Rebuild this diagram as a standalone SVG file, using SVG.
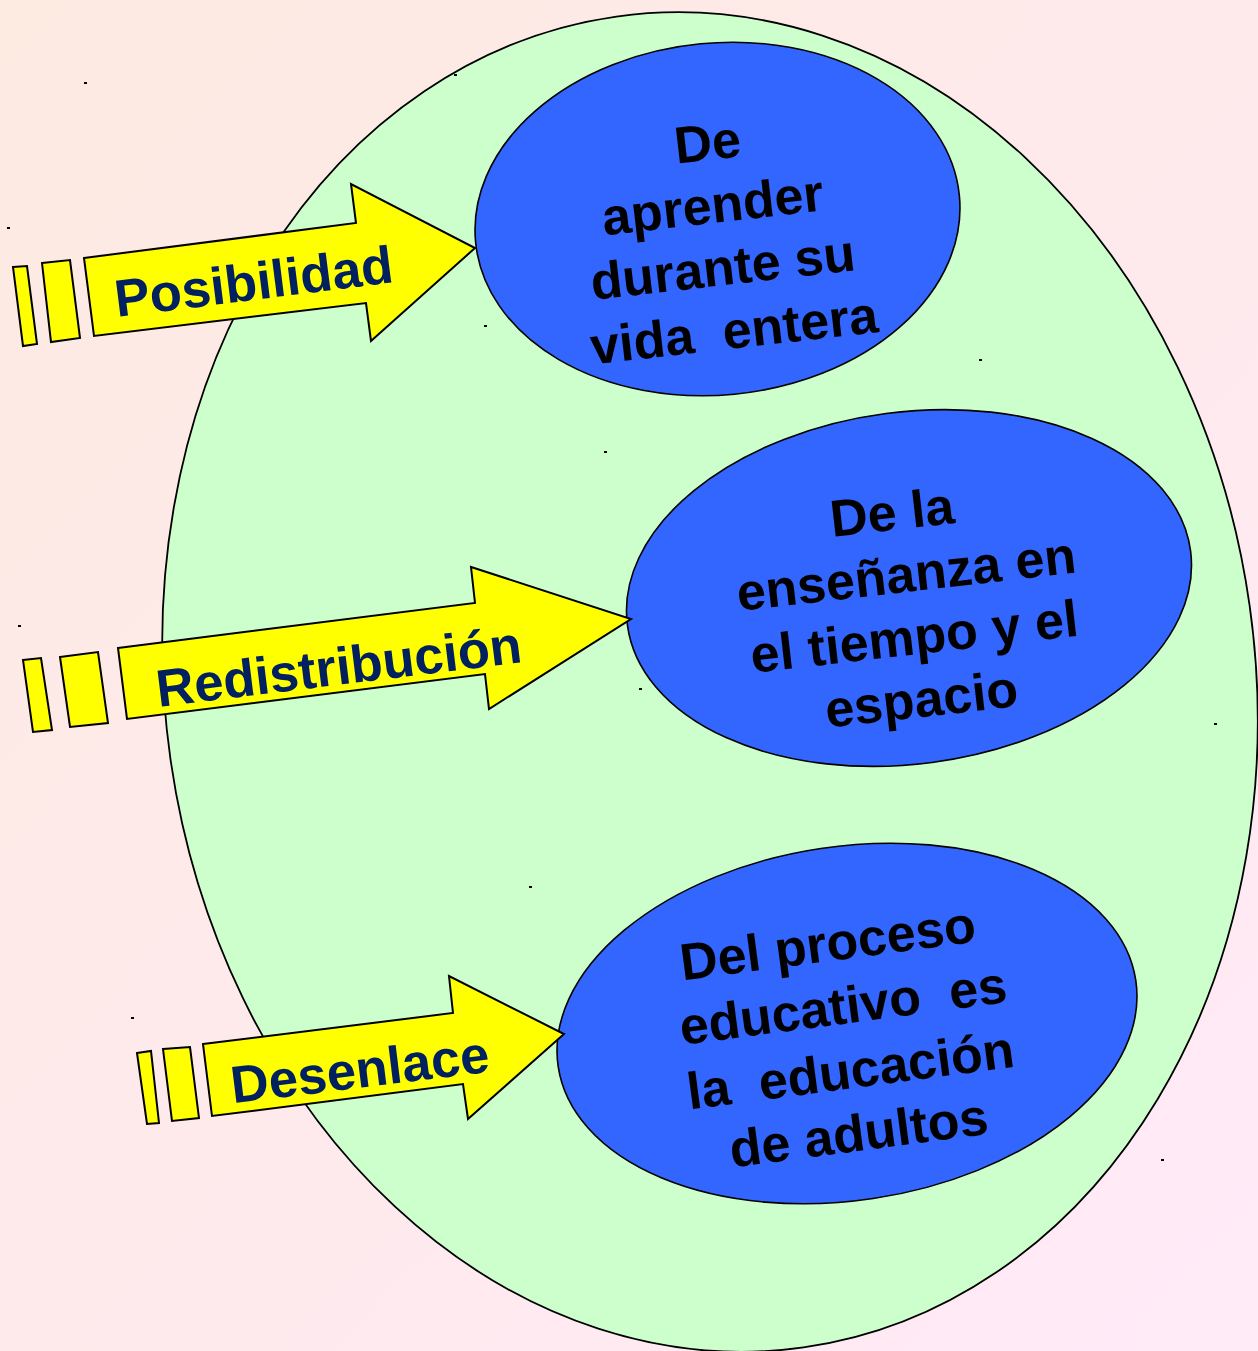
<svg xmlns="http://www.w3.org/2000/svg" width="1258" height="1351" viewBox="0 0 1258 1351">
<defs>
<linearGradient id="bg" x1="0" y1="0" x2="1" y2="1">
<stop offset="0" stop-color="#FDEAE1"/>
<stop offset="0.5" stop-color="#FEEAEB"/>
<stop offset="1" stop-color="#FFEAF8"/>
</linearGradient>
<style>
.outer{fill:#CCFFCC;stroke:#000;stroke-width:1.8}
.blob{fill:#3366FF;stroke:#000;stroke-width:1.6}
.ntext{font-family:"Liberation Sans",Arial,sans-serif;font-weight:bold;font-size:52px;fill:#000;text-anchor:middle;white-space:pre}
.arrow{fill:#FFFF00;stroke:#000;stroke-width:2;stroke-linejoin:miter}
.atext{font-family:"Liberation Sans",Arial,sans-serif;font-weight:bold;font-size:52.5px;fill:#002060;text-anchor:middle}
.dot{fill:#000}
</style>
</defs>
<rect x="0" y="0" width="1258" height="1351" fill="url(#bg)"/>
<g id="container">
<ellipse class="outer" cx="710" cy="682" rx="545" ry="672" transform="rotate(-8 710 682)"/>
</g>
<g id="marks">
<rect class="dot" x="84" y="82" width="3" height="2"/>
<rect class="dot" x="454" y="74" width="3" height="2"/>
<rect class="dot" x="7" y="227" width="3" height="2"/>
<rect class="dot" x="484" y="325" width="3" height="2"/>
<rect class="dot" x="979" y="359" width="3" height="2"/>
<rect class="dot" x="604" y="451" width="3" height="2"/>
<rect class="dot" x="18" y="625" width="3" height="2"/>
<rect class="dot" x="639" y="688" width="3" height="2"/>
<rect class="dot" x="1214" y="723" width="3" height="2"/>
<rect class="dot" x="529" y="886" width="3" height="2"/>
<rect class="dot" x="131" y="1017" width="3" height="2"/>
<rect class="dot" x="572" y="1105" width="3" height="2"/>
<rect class="dot" x="1161" y="1159" width="3" height="2"/>
</g>
<g id="node-aprender">
<ellipse class="blob" cx="717.5" cy="219" rx="243" ry="176" transform="rotate(-5.5 717.5 219)"/>
<g transform="translate(709.5 160) rotate(-6.5)">
<text class="ntext" x="0" y="0">De</text>
<text class="ntext" x="-2" y="63">aprender</text>
<text class="ntext" x="1" y="126">durante su</text>
<text class="ntext" x="5" y="190">vida  entera</text>
</g>
</g>
<g id="node-ensenanza">
<ellipse class="blob" cx="909" cy="588" rx="284" ry="176" transform="rotate(-7.5 909 588)"/>
<g transform="translate(894 530) rotate(-6.5)">
<text class="ntext" x="0" y="0">De la</text>
<text class="ntext" x="7" y="63">enseñanza en</text>
<text class="ntext" x="8" y="126">el tiempo y el</text>
<text class="ntext" x="8" y="189">espacio</text>
</g>
</g>
<g id="node-proceso">
<ellipse class="blob" cx="847" cy="1023.5" rx="292" ry="177" transform="rotate(-8.5 847 1023.5)"/>
<g transform="translate(830 961) rotate(-7.5)">
<text class="ntext" x="0" y="0">Del proceso</text>
<text class="ntext" x="7" y="64">educativo  es</text>
<text class="ntext" x="6" y="129">la  educación</text>
<text class="ntext" x="6" y="192">de adultos</text>
</g>
</g>
<g id="connectors">
<g id="arrow-posibilidad">
<polygon class="arrow" points="13,267 27,266 37,344 23,346"/>
<polygon class="arrow" points="42,263 70,260 80,338 51,342"/>
<polygon class="arrow" points="84,258 356,223 351,184 475,248 371,341 366,303 94,336"/>
<text class="atext" transform="translate(256 299.5) rotate(-7.2)">Posibilidad</text>
</g>
<g id="arrow-redistribucion">
<polygon class="arrow" points="23,660 41,658 52,730 33,732"/>
<polygon class="arrow" points="60,657 98,652 108,723 70,727"/>
<polygon class="arrow" points="118,648 475,603 471,567 631,619 489,709 485,674 127,719"/>
<text class="atext" transform="translate(341 684.5) rotate(-7)">Redistribución</text>
</g>
<g id="arrow-desenlace">
<polygon class="arrow" points="137,1053 151,1051 159,1123 147,1124"/>
<polygon class="arrow" points="163,1049 190,1047 199,1118 172,1121"/>
<polygon class="arrow" points="203,1044 453,1013 449,976 564,1034 468,1119 463,1084 212,1116"/>
<text class="atext" transform="translate(362 1087.5) rotate(-7)">Desenlace</text>
</g>
</g>
</svg>
